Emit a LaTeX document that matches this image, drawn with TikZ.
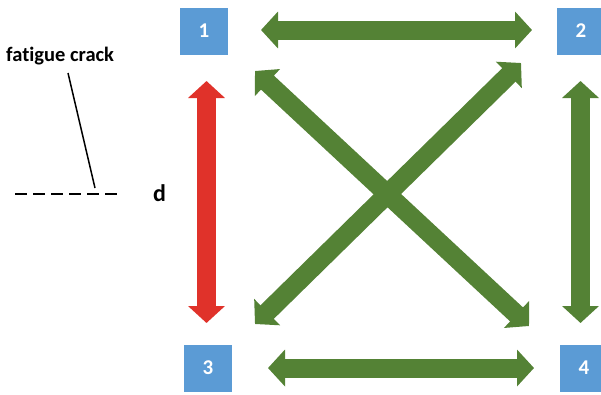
\documentclass[tikz,border=0pt]{standalone}
\usepackage{fontspec}
\setmainfont{Carlito}[Ligatures=NoCommon]
\usetikzlibrary{arrows.meta}
\definecolor{boxblue}{HTML}{5B9BD5}
\definecolor{arrgreen}{HTML}{548235}
\definecolor{arrred}{HTML}{E0322A}
\tikzset{
  numbox/.style={fill=boxblue, minimum width=48pt, minimum height=47pt, inner sep=0pt,
    text=white, font=\fontsize{21}{21}\selectfont\bfseries},
  bigarrow/.style={line width=19pt, {Triangle[width=36pt,length=17pt]}-{Triangle[width=36pt,length=17pt]}},
  lbl/.style={inner sep=0pt, anchor=base west, text=black},
}
\begin{document}
\begin{tikzpicture}[x=1pt, y=-1pt]
\useasboundingbox (0,0) rectangle (601,394);
\clip (0,0) rectangle (601,394);
% boxes
\node[numbox] (b1) at (204,31) {1};
\node[numbox] (b2) at (581,31) {2};
\node[numbox] (b3) at (208,368) {3};
\node[numbox] (b4) at (584,368) {4};
% arrow end points
\coordinate (t1) at (261,30);  \coordinate (t2) at (532,30);
\coordinate (u1) at (268,368); \coordinate (u2) at (534,368);
\coordinate (r1) at (206.5,81); \coordinate (r2) at (206.5,323);
\coordinate (g1) at (580.5,81); \coordinate (g2) at (580.5,323);
\coordinate (d1) at (255,71);  \coordinate (d2) at (529,326);
\coordinate (e1) at (521,63);  \coordinate (e2) at (255,324);
% arrows
\draw[bigarrow, arrgreen] (t1) -- (t2);
\draw[bigarrow, arrgreen] (u1) -- (u2);
\draw[bigarrow, arrred] (r1) -- (r2);
\draw[bigarrow, arrgreen] (g1) -- (g2);
\draw[bigarrow, arrgreen] (d1) -- (d2);
\draw[bigarrow, arrgreen] (e1) -- (e2);
% crack annotation
\node[lbl, font=\fontsize{20.5}{20.5}\selectfont\bfseries] (fc) at (6,61) {fatigue crack};
\coordinate (c1) at (15,194); \coordinate (c2) at (117,194);
\coordinate (l1) at (68,73);  \coordinate (l2) at (95,188);
\draw[line width=2.8pt, dash pattern=on 12pt off 6pt] (c1) -- (c2);
\draw[line width=1.5pt] (l1) -- (l2);
\node[lbl, font=\fontsize{24}{24}\selectfont\bfseries] (d) at (153,201) {d};
\end{tikzpicture}
\end{document}
